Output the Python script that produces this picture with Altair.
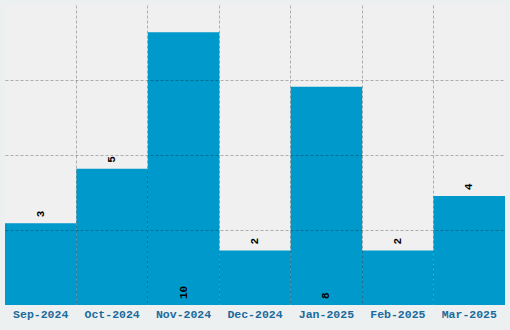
import altair as alt
import pandas as pd

months = ["Sep-2024", "Oct-2024", "Nov-2024", "Dec-2024", "Jan-2025", "Feb-2025", "Mar-2025"]
counts = [3, 5, 10, 2, 8, 2, 4]

df = pd.DataFrame({"month": months, "count": counts})

FONT = "Liberation Mono"

x = alt.X("month:N", sort=months, title=None,
          scale=alt.Scale(paddingInner=0, paddingOuter=0),
          axis=alt.Axis(labelAngle=0, labelFont=FONT, labelFontSize=11.5, labelFontWeight="bold",
                        labelColor="#1b6a9c", labelPadding=3, ticks=False, domain=False,
                        grid=True, bandPosition=0, gridDash=[3, 2],
                        gridColor="#000000",
                        gridOpacity={"condition": {"test": "datum.value == 'Sep-2024'", "value": 0}, "value": 0.28},
                        zindex=1))

y_scale = alt.Scale(domain=[0, 11], nice=False)

bars = alt.Chart(df).mark_bar(color="#0099cc", stroke=None).encode(
    x=x,
    y=alt.Y("count:Q", scale=y_scale, title=None,
            axis=alt.Axis(labels=False, ticks=False, domain=False, grid=True,
                          values=[2.75, 5.5, 8.25], gridDash=[3, 2], gridColor="#000000",
                          gridOpacity=0.28, zindex=1)),
)

labels = alt.Chart(df).transform_calculate(
    pos="datum.count > 6 ? 0 : datum.count"
).mark_text(angle=270, align="left", baseline="middle", dx=6, font=FONT,
            fontSize=11, fontWeight="bold", color="#000000").encode(
    x=alt.X("month:N", sort=months),
    y=alt.Y("pos:Q", scale=y_scale),
    text=alt.Text("count:Q"),
)

chart = (bars + labels).properties(
    width=500, height=300,
    background="#ecf0f1",
    padding={"left": 5, "top": 5, "right": 5, "bottom": 25},
    autosize=alt.AutoSizeParams(type="none"),
).configure_view(fill="#f0f0f0", stroke=None)

chart.save("out.html", embed_options={"renderer": "svg", "actions": False})
